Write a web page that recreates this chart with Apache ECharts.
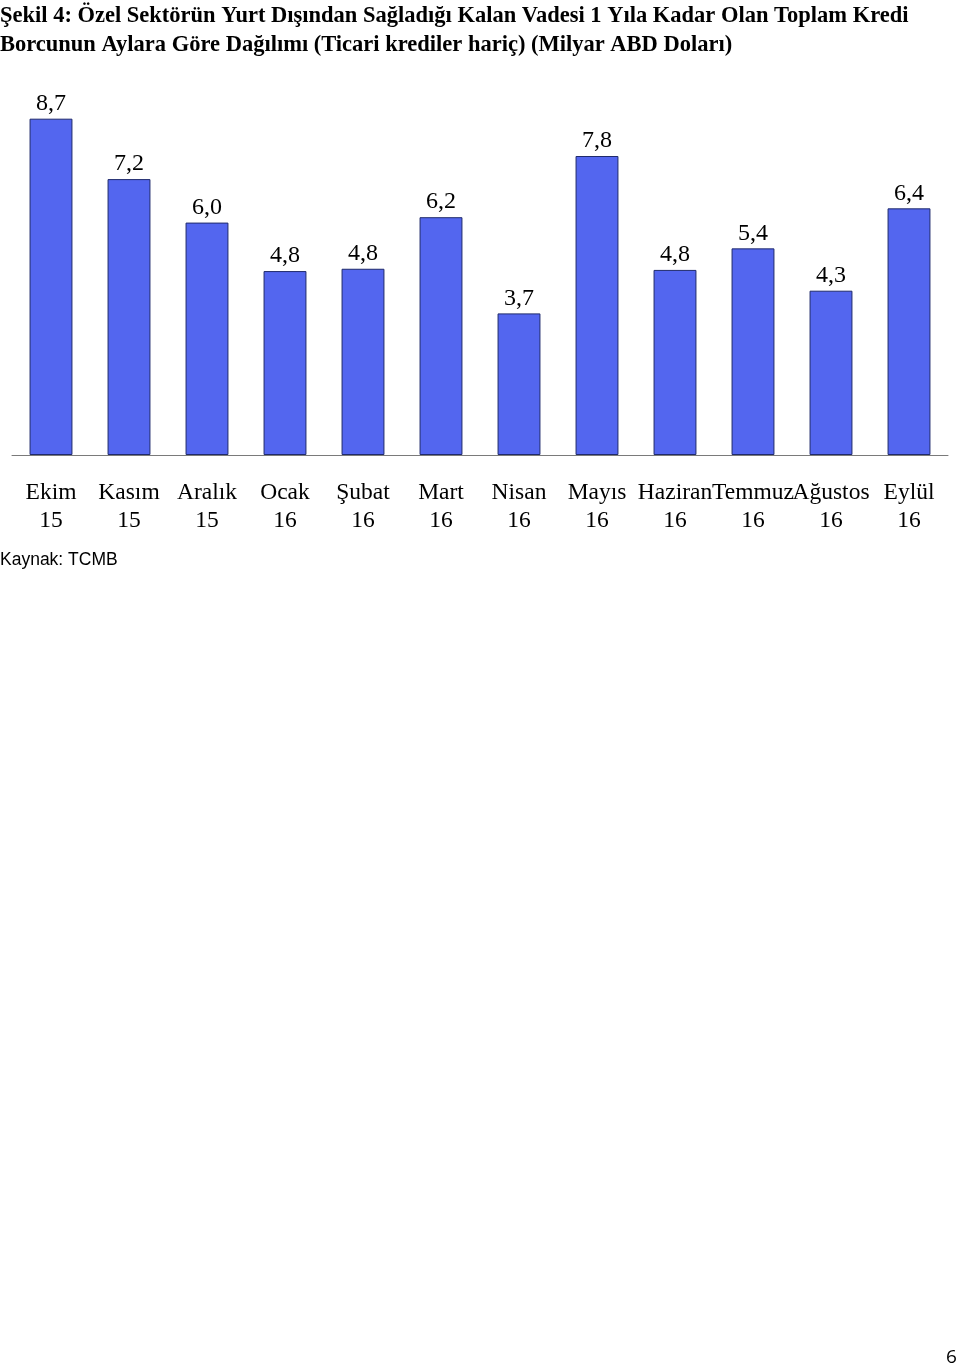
<!DOCTYPE html>
<html><head><meta charset="utf-8">
<script src="https://cdn.jsdelivr.net/npm/echarts@6/dist/echarts.min.js"></script>
<style>html,body{margin:0;padding:0;background:#fff}#c{width:960px;height:1368px}</style>
</head><body><div id="c"></div>
<script>
const titleLines = ['Şekil 4: Özel Sektörün Yurt Dışından Sağladığı Kalan Vadesi 1 Yıla Kadar Olan Toplam Kredi','Borcunun Aylara Göre Dağılımı (Ticari krediler hariç) (Milyar ABD Doları)'];
const months = ['Ekim','Kasım','Aralık','Ocak','Şubat','Mart','Nisan','Mayıs','Haziran','Temmuz','Ağustos','Eylül'];
const years = ['15','15','15','16','16','16','16','16','16','16','16','16'];
const values = [8.74, 7.17, 6.04, 4.78, 4.84, 6.18, 3.68, 7.77, 4.81, 5.37, 4.27, 6.41];
const source = 'Kaynak: TCMB';
const pageNo = '6';

const chart = echarts.init(document.getElementById('c'));
chart.setOption({
  backgroundColor: '#fff',
  animation: false,
  title: {
    text: titleLines.join('\n'),
    left: 0, top: 2, padding: 0,
    textStyle: {fontFamily: 'Liberation Serif', fontWeight: 'bold', fontSize: 22.5, lineHeight: 29, color: '#000'}
  },
  grid: {left: 12, right: 12, top: 70.2, bottom: 913},
  xAxis: {
    type: 'category',
    data: months.map((m, i) => m + '\n' + years[i]),
    axisLine: {lineStyle: {color: '#7a7a7a', width: 1}},
    axisTick: {show: false},
    axisLabel: {interval: 0, margin: 24, fontFamily: 'Liberation Serif', fontSize: 23.5, lineHeight: 28, color: '#000'}
  },
  yAxis: {type: 'value', min: 0, max: 10, show: false, splitLine: {show: false}},
  series: [{
    type: 'bar',
    data: values,
    barWidth: '55%',
    itemStyle: {color: '#5366EF', borderColor: '#1f2a6b', borderWidth: 1},
    label: {
      show: true, position: 'top', distance: 3,
      fontFamily: 'Liberation Serif', fontSize: 24, color: '#000',
      formatter: p => p.value.toFixed(1).replace('.', ',')
    }
  }],
  graphic: [
    {type: 'text', left: 0, top: 551, style: {text: source, font: '17.5px "Liberation Sans"', fill: '#000'}},
    {type: 'text', left: 946, top: 1348, style: {text: pageNo, font: '19px "Open Sans"', fill: '#000'}}
  ]
});
</script></body></html>
